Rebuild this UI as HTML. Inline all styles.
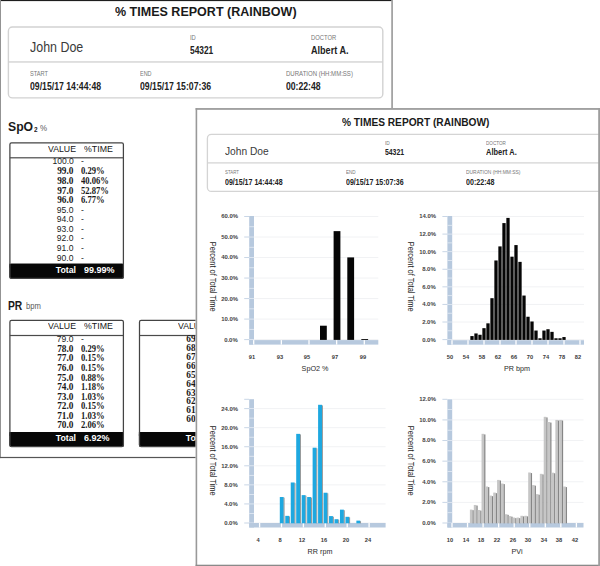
<!DOCTYPE html>
<html><head><meta charset="utf-8"><title>% Times Report (Rainbow)</title>
<style>
html,body{margin:0;padding:0;background:#fff;}
body{width:600px;height:566px;position:relative;overflow:hidden;font-family:"Liberation Sans",sans-serif;}
.layer{position:absolute;left:0;top:0;width:600px;height:566px;overflow:hidden}
.layer svg{position:absolute;left:0;top:0}
.t{position:absolute;white-space:pre}
</style></head><body>
<div class="layer" id="left-page">
<svg width="600" height="566" viewBox="0 0 600 566">
<rect x="0.00" y="0.00" width="393.00" height="458.10" fill="#fff"/>
<rect x="0.00" y="0.00" width="393.00" height="1.10" fill="#1e1e1e"/>
<rect x="0.00" y="0.00" width="1.00" height="458.10" fill="#939393"/>
<rect x="391.20" y="0.00" width="1.80" height="458.10" fill="#a4a4a4"/>
<rect x="0.00" y="456.90" width="393.00" height="1.20" fill="#555"/>
<rect x="8.40" y="27.00" width="374.40" height="70.90" fill="none" stroke="#d2d2d2" stroke-width="1.4" rx="4"/>
<rect x="8.40" y="61.30" width="374.40" height="1.30" fill="#d0d0d0"/>
<rect x="9.30" y="263.70" width="114.70" height="15.10" fill="#070707" rx="2"/>
<rect x="9.30" y="263.70" width="114.70" height="4.00" fill="#070707"/>
<rect x="9.90" y="142.80" width="113.50" height="135.50" fill="none" stroke="#444" stroke-width="1.25" rx="1.6"/>
<rect x="9.90" y="157.20" width="113.50" height="1.20" fill="#4a4a4a"/>
<rect x="9.30" y="432.00" width="114.70" height="15.00" fill="#070707" rx="2"/>
<rect x="9.30" y="432.00" width="114.70" height="4.00" fill="#070707"/>
<rect x="9.90" y="320.30" width="113.50" height="126.20" fill="none" stroke="#444" stroke-width="1.25" rx="1.6"/>
<rect x="9.90" y="334.90" width="113.50" height="1.20" fill="#4a4a4a"/>
<rect x="138.90" y="432.00" width="114.70" height="15.00" fill="#070707" rx="2"/>
<rect x="138.90" y="432.00" width="114.70" height="4.00" fill="#070707"/>
<rect x="139.50" y="320.30" width="113.50" height="126.20" fill="none" stroke="#444" stroke-width="1.25" rx="1.6"/>
<rect x="139.50" y="334.90" width="113.50" height="1.20" fill="#4a4a4a"/>
</svg>
<span class="t" style="font:bold 13.4px/17.42px 'Liberation Sans', sans-serif;color:#1a1a1a;top:2.89px;left:115.30px;transform-origin:0 50%;transform:scaleX(0.9351);">% TIMES REPORT (RAINBOW)</span>
<span class="t" style="font:normal 14px/18.20px 'Liberation Sans', sans-serif;color:#3a3a3a;top:38.10px;left:30.00px;transform-origin:0 50%;transform:scaleX(0.8883);">John Doe</span>
<span class="t" style="font:normal 7px/9.10px 'Liberation Sans', sans-serif;color:#777;top:32.65px;left:190.00px;transform-origin:0 50%;transform:scaleX(0.8286);">ID</span>
<span class="t" style="font:bold 10px/13.00px 'Liberation Sans', sans-serif;color:#222;top:43.70px;left:190.00px;transform-origin:0 50%;transform:scaleX(0.8357);">54321</span>
<span class="t" style="font:normal 7px/9.10px 'Liberation Sans', sans-serif;color:#777;top:32.65px;left:310.60px;transform-origin:0 50%;transform:scaleX(0.8333);">DOCTOR</span>
<span class="t" style="font:bold 10px/13.00px 'Liberation Sans', sans-serif;color:#222;top:43.70px;left:310.60px;transform-origin:0 50%;transform:scaleX(0.9073);">Albert A.</span>
<span class="t" style="font:normal 7px/9.10px 'Liberation Sans', sans-serif;color:#777;top:69.45px;left:30.00px;transform-origin:0 50%;transform:scaleX(0.8091);">START</span>
<span class="t" style="font:bold 10px/13.00px 'Liberation Sans', sans-serif;color:#222;top:79.50px;left:30.00px;transform-origin:0 50%;transform:scaleX(0.8695);">09/15/17 14:44:48</span>
<span class="t" style="font:normal 7px/9.10px 'Liberation Sans', sans-serif;color:#777;top:69.45px;left:140.30px;transform-origin:0 50%;transform:scaleX(0.7800);">END</span>
<span class="t" style="font:bold 10px/13.00px 'Liberation Sans', sans-serif;color:#222;top:79.50px;left:140.00px;transform-origin:0 50%;transform:scaleX(0.8695);">09/15/17 15:07:36</span>
<span class="t" style="font:normal 7px/9.10px 'Liberation Sans', sans-serif;color:#777;top:69.45px;left:286.10px;transform-origin:0 50%;transform:scaleX(0.8615);">DURATION (HH:MM:SS)</span>
<span class="t" style="font:bold 10px/13.00px 'Liberation Sans', sans-serif;color:#222;top:79.50px;left:286.10px;transform-origin:0 50%;transform:scaleX(0.8650);">00:22:48</span>
<span class="t" style="font:bold 13.4px/17.42px 'Liberation Sans', sans-serif;color:#1a1a1a;top:118.39px;left:7.90px;transform-origin:0 50%;transform:scaleX(0.9107);">SpO</span>
<span class="t" style="font:bold 6.6px/8.58px 'Liberation Sans', sans-serif;color:#1a1a1a;top:125.51px;left:33.70px;transform-origin:0 50%;transform:scaleX(0.9750);">2</span>
<span class="t" style="font:normal 8.3px/10.79px 'Liberation Sans', sans-serif;color:#595959;top:122.80px;left:40.30px;transform-origin:0 50%;transform:scaleX(0.9571);">%</span>
<span class="t" style="font:bold 13.4px/17.42px 'Liberation Sans', sans-serif;color:#1a1a1a;top:296.69px;left:8.20px;transform-origin:0 50%;transform:scaleX(0.7684);">PR</span>
<span class="t" style="font:normal 8.5px/11.05px 'Liberation Sans', sans-serif;color:#595959;top:300.68px;left:25.70px;transform-origin:0 50%;transform:scaleX(0.9000);">bpm</span>
<span class="t" style="font:normal 9.5px/12.35px 'Liberation Sans', sans-serif;color:#151515;top:143.22px;left:48.20px;transform-origin:0 50%;transform:scaleX(0.9200);">VALUE</span>
<span class="t" style="font:normal 9.5px/12.35px 'Liberation Sans', sans-serif;color:#151515;top:143.22px;left:83.80px;transform-origin:0 50%;transform:scaleX(0.9258);">%TIME</span>
<span class="t" style="font:normal 9.5px/12.35px 'Liberation Sans', sans-serif;color:#222;top:155.42px;right:526.60px;transform-origin:100% 50%;transform:scaleX(0.9000);">100.0</span>
<span class="t" style="font:normal 9.5px/12.35px 'Liberation Sans', sans-serif;color:#222;top:155.42px;left:81.20px;transform-origin:0 50%;transform:scaleX(0.9000);">-</span>
<span class="t" style="font:bold 10px/13.00px 'Liberation Serif', serif;color:#1a1a1a;top:164.32px;right:526.80px;transform-origin:100% 50%;transform:scaleX(0.9300);">99.0</span>
<span class="t" style="font:bold 10px/13.00px 'Liberation Serif', serif;color:#1a1a1a;top:164.32px;left:81.20px;transform-origin:0 50%;transform:scaleX(0.8600);">0.29%</span>
<span class="t" style="font:bold 10px/13.00px 'Liberation Serif', serif;color:#1a1a1a;top:173.94px;right:526.80px;transform-origin:100% 50%;transform:scaleX(0.9300);">98.0</span>
<span class="t" style="font:bold 10px/13.00px 'Liberation Serif', serif;color:#1a1a1a;top:173.94px;left:81.20px;transform-origin:0 50%;transform:scaleX(0.8600);">40.06%</span>
<span class="t" style="font:bold 10px/13.00px 'Liberation Serif', serif;color:#1a1a1a;top:183.56px;right:526.80px;transform-origin:100% 50%;transform:scaleX(0.9300);">97.0</span>
<span class="t" style="font:bold 10px/13.00px 'Liberation Serif', serif;color:#1a1a1a;top:183.56px;left:81.20px;transform-origin:0 50%;transform:scaleX(0.8600);">52.87%</span>
<span class="t" style="font:bold 10px/13.00px 'Liberation Serif', serif;color:#1a1a1a;top:193.18px;right:526.80px;transform-origin:100% 50%;transform:scaleX(0.9300);">96.0</span>
<span class="t" style="font:bold 10px/13.00px 'Liberation Serif', serif;color:#1a1a1a;top:193.18px;left:81.20px;transform-origin:0 50%;transform:scaleX(0.8600);">6.77%</span>
<span class="t" style="font:normal 9.5px/12.35px 'Liberation Sans', sans-serif;color:#222;top:203.52px;right:526.60px;transform-origin:100% 50%;transform:scaleX(0.9000);">95.0</span>
<span class="t" style="font:normal 9.5px/12.35px 'Liberation Sans', sans-serif;color:#222;top:203.52px;left:81.20px;transform-origin:0 50%;transform:scaleX(0.9000);">-</span>
<span class="t" style="font:normal 9.5px/12.35px 'Liberation Sans', sans-serif;color:#222;top:213.14px;right:526.60px;transform-origin:100% 50%;transform:scaleX(0.9000);">94.0</span>
<span class="t" style="font:normal 9.5px/12.35px 'Liberation Sans', sans-serif;color:#222;top:213.14px;left:81.20px;transform-origin:0 50%;transform:scaleX(0.9000);">-</span>
<span class="t" style="font:normal 9.5px/12.35px 'Liberation Sans', sans-serif;color:#222;top:222.76px;right:526.60px;transform-origin:100% 50%;transform:scaleX(0.9000);">93.0</span>
<span class="t" style="font:normal 9.5px/12.35px 'Liberation Sans', sans-serif;color:#222;top:222.76px;left:81.20px;transform-origin:0 50%;transform:scaleX(0.9000);">-</span>
<span class="t" style="font:normal 9.5px/12.35px 'Liberation Sans', sans-serif;color:#222;top:232.38px;right:526.60px;transform-origin:100% 50%;transform:scaleX(0.9000);">92.0</span>
<span class="t" style="font:normal 9.5px/12.35px 'Liberation Sans', sans-serif;color:#222;top:232.38px;left:81.20px;transform-origin:0 50%;transform:scaleX(0.9000);">-</span>
<span class="t" style="font:normal 9.5px/12.35px 'Liberation Sans', sans-serif;color:#222;top:242.00px;right:526.60px;transform-origin:100% 50%;transform:scaleX(0.9000);">91.0</span>
<span class="t" style="font:normal 9.5px/12.35px 'Liberation Sans', sans-serif;color:#222;top:242.00px;left:81.20px;transform-origin:0 50%;transform:scaleX(0.9000);">-</span>
<span class="t" style="font:normal 9.5px/12.35px 'Liberation Sans', sans-serif;color:#222;top:251.62px;right:526.60px;transform-origin:100% 50%;transform:scaleX(0.9000);">90.0</span>
<span class="t" style="font:normal 9.5px/12.35px 'Liberation Sans', sans-serif;color:#222;top:251.62px;left:81.20px;transform-origin:0 50%;transform:scaleX(0.9000);">-</span>
<span class="t" style="font:bold 9.5px/12.35px 'Liberation Sans', sans-serif;color:#fff;top:264.43px;right:523.60px;transform-origin:100% 50%;transform:scaleX(0.9227);">Total</span>
<span class="t" style="font:bold 9.5px/12.35px 'Liberation Sans', sans-serif;color:#fff;top:264.43px;left:83.70px;transform-origin:0 50%;transform:scaleX(0.9469);">99.99%</span>
<span class="t" style="font:normal 9.5px/12.35px 'Liberation Sans', sans-serif;color:#151515;top:320.43px;left:48.20px;transform-origin:0 50%;transform:scaleX(0.9200);">VALUE</span>
<span class="t" style="font:normal 9.5px/12.35px 'Liberation Sans', sans-serif;color:#151515;top:320.43px;left:83.80px;transform-origin:0 50%;transform:scaleX(0.9258);">%TIME</span>
<span class="t" style="font:normal 9.5px/12.35px 'Liberation Sans', sans-serif;color:#222;top:333.02px;right:526.60px;transform-origin:100% 50%;transform:scaleX(0.9000);">79.0</span>
<span class="t" style="font:normal 9.5px/12.35px 'Liberation Sans', sans-serif;color:#222;top:333.02px;left:81.20px;transform-origin:0 50%;transform:scaleX(0.9000);">-</span>
<span class="t" style="font:bold 10px/13.00px 'Liberation Serif', serif;color:#1a1a1a;top:341.86px;right:526.80px;transform-origin:100% 50%;transform:scaleX(0.9300);">78.0</span>
<span class="t" style="font:bold 10px/13.00px 'Liberation Serif', serif;color:#1a1a1a;top:341.86px;left:81.20px;transform-origin:0 50%;transform:scaleX(0.8600);">0.29%</span>
<span class="t" style="font:bold 10px/13.00px 'Liberation Serif', serif;color:#1a1a1a;top:351.42px;right:526.80px;transform-origin:100% 50%;transform:scaleX(0.9300);">77.0</span>
<span class="t" style="font:bold 10px/13.00px 'Liberation Serif', serif;color:#1a1a1a;top:351.42px;left:81.20px;transform-origin:0 50%;transform:scaleX(0.8600);">0.15%</span>
<span class="t" style="font:bold 10px/13.00px 'Liberation Serif', serif;color:#1a1a1a;top:360.98px;right:526.80px;transform-origin:100% 50%;transform:scaleX(0.9300);">76.0</span>
<span class="t" style="font:bold 10px/13.00px 'Liberation Serif', serif;color:#1a1a1a;top:360.98px;left:81.20px;transform-origin:0 50%;transform:scaleX(0.8600);">0.15%</span>
<span class="t" style="font:bold 10px/13.00px 'Liberation Serif', serif;color:#1a1a1a;top:370.54px;right:526.80px;transform-origin:100% 50%;transform:scaleX(0.9300);">75.0</span>
<span class="t" style="font:bold 10px/13.00px 'Liberation Serif', serif;color:#1a1a1a;top:370.54px;left:81.20px;transform-origin:0 50%;transform:scaleX(0.8600);">0.88%</span>
<span class="t" style="font:bold 10px/13.00px 'Liberation Serif', serif;color:#1a1a1a;top:380.10px;right:526.80px;transform-origin:100% 50%;transform:scaleX(0.9300);">74.0</span>
<span class="t" style="font:bold 10px/13.00px 'Liberation Serif', serif;color:#1a1a1a;top:380.10px;left:81.20px;transform-origin:0 50%;transform:scaleX(0.8600);">1.18%</span>
<span class="t" style="font:bold 10px/13.00px 'Liberation Serif', serif;color:#1a1a1a;top:389.66px;right:526.80px;transform-origin:100% 50%;transform:scaleX(0.9300);">73.0</span>
<span class="t" style="font:bold 10px/13.00px 'Liberation Serif', serif;color:#1a1a1a;top:389.66px;left:81.20px;transform-origin:0 50%;transform:scaleX(0.8600);">1.03%</span>
<span class="t" style="font:bold 10px/13.00px 'Liberation Serif', serif;color:#1a1a1a;top:399.22px;right:526.80px;transform-origin:100% 50%;transform:scaleX(0.9300);">72.0</span>
<span class="t" style="font:bold 10px/13.00px 'Liberation Serif', serif;color:#1a1a1a;top:399.22px;left:81.20px;transform-origin:0 50%;transform:scaleX(0.8600);">0.15%</span>
<span class="t" style="font:bold 10px/13.00px 'Liberation Serif', serif;color:#1a1a1a;top:408.78px;right:526.80px;transform-origin:100% 50%;transform:scaleX(0.9300);">71.0</span>
<span class="t" style="font:bold 10px/13.00px 'Liberation Serif', serif;color:#1a1a1a;top:408.78px;left:81.20px;transform-origin:0 50%;transform:scaleX(0.8600);">1.03%</span>
<span class="t" style="font:bold 10px/13.00px 'Liberation Serif', serif;color:#1a1a1a;top:418.34px;right:526.80px;transform-origin:100% 50%;transform:scaleX(0.9300);">70.0</span>
<span class="t" style="font:bold 10px/13.00px 'Liberation Serif', serif;color:#1a1a1a;top:418.34px;left:81.20px;transform-origin:0 50%;transform:scaleX(0.8600);">2.06%</span>
<span class="t" style="font:bold 9.5px/12.35px 'Liberation Sans', sans-serif;color:#fff;top:431.82px;right:523.60px;transform-origin:100% 50%;transform:scaleX(0.9227);">Total</span>
<span class="t" style="font:bold 9.5px/12.35px 'Liberation Sans', sans-serif;color:#fff;top:431.82px;left:83.70px;transform-origin:0 50%;transform:scaleX(0.9444);">6.92%</span>
<span class="t" style="font:normal 9.5px/12.35px 'Liberation Sans', sans-serif;color:#151515;top:320.43px;left:177.80px;transform-origin:0 50%;transform:scaleX(0.9200);">VALUE</span>
<span class="t" style="font:normal 9.5px/12.35px 'Liberation Sans', sans-serif;color:#151515;top:320.43px;left:213.40px;transform-origin:0 50%;transform:scaleX(0.9258);">%TIME</span>
<span class="t" style="font:bold 10px/13.00px 'Liberation Serif', serif;color:#1a1a1a;top:332.10px;right:397.20px;transform-origin:100% 50%;transform:scaleX(0.9300);">69.0</span>
<span class="t" style="font:bold 10px/13.00px 'Liberation Serif', serif;color:#1a1a1a;top:332.10px;left:210.80px;transform-origin:0 50%;transform:scaleX(0.8600);">5.01%</span>
<span class="t" style="font:bold 10px/13.00px 'Liberation Serif', serif;color:#1a1a1a;top:341.00px;right:397.20px;transform-origin:100% 50%;transform:scaleX(0.9300);">68.0</span>
<span class="t" style="font:bold 10px/13.00px 'Liberation Serif', serif;color:#1a1a1a;top:341.00px;left:210.80px;transform-origin:0 50%;transform:scaleX(0.8600);">8.84%</span>
<span class="t" style="font:bold 10px/13.00px 'Liberation Serif', serif;color:#1a1a1a;top:349.90px;right:397.20px;transform-origin:100% 50%;transform:scaleX(0.9300);">67.0</span>
<span class="t" style="font:bold 10px/13.00px 'Liberation Serif', serif;color:#1a1a1a;top:349.90px;left:210.80px;transform-origin:0 50%;transform:scaleX(0.8600);">10.75%</span>
<span class="t" style="font:bold 10px/13.00px 'Liberation Serif', serif;color:#1a1a1a;top:358.80px;right:397.20px;transform-origin:100% 50%;transform:scaleX(0.9300);">66.0</span>
<span class="t" style="font:bold 10px/13.00px 'Liberation Serif', serif;color:#1a1a1a;top:358.80px;left:210.80px;transform-origin:0 50%;transform:scaleX(0.8600);">9.43%</span>
<span class="t" style="font:bold 10px/13.00px 'Liberation Serif', serif;color:#1a1a1a;top:367.70px;right:397.20px;transform-origin:100% 50%;transform:scaleX(0.9300);">65.0</span>
<span class="t" style="font:bold 10px/13.00px 'Liberation Serif', serif;color:#1a1a1a;top:367.70px;left:210.80px;transform-origin:0 50%;transform:scaleX(0.8600);">13.84%</span>
<span class="t" style="font:bold 10px/13.00px 'Liberation Serif', serif;color:#1a1a1a;top:376.60px;right:397.20px;transform-origin:100% 50%;transform:scaleX(0.9300);">64.0</span>
<span class="t" style="font:bold 10px/13.00px 'Liberation Serif', serif;color:#1a1a1a;top:376.60px;left:210.80px;transform-origin:0 50%;transform:scaleX(0.8600);">13.25%</span>
<span class="t" style="font:bold 10px/13.00px 'Liberation Serif', serif;color:#1a1a1a;top:385.50px;right:397.20px;transform-origin:100% 50%;transform:scaleX(0.9300);">63.0</span>
<span class="t" style="font:bold 10px/13.00px 'Liberation Serif', serif;color:#1a1a1a;top:385.50px;left:210.80px;transform-origin:0 50%;transform:scaleX(0.8600);">10.60%</span>
<span class="t" style="font:bold 10px/13.00px 'Liberation Serif', serif;color:#1a1a1a;top:394.40px;right:397.20px;transform-origin:100% 50%;transform:scaleX(0.9300);">62.0</span>
<span class="t" style="font:bold 10px/13.00px 'Liberation Serif', serif;color:#1a1a1a;top:394.40px;left:210.80px;transform-origin:0 50%;transform:scaleX(0.8600);">9.00%</span>
<span class="t" style="font:bold 10px/13.00px 'Liberation Serif', serif;color:#1a1a1a;top:403.30px;right:397.20px;transform-origin:100% 50%;transform:scaleX(0.9300);">61.0</span>
<span class="t" style="font:bold 10px/13.00px 'Liberation Serif', serif;color:#1a1a1a;top:403.30px;left:210.80px;transform-origin:0 50%;transform:scaleX(0.8600);">4.71%</span>
<span class="t" style="font:bold 10px/13.00px 'Liberation Serif', serif;color:#1a1a1a;top:412.20px;right:397.20px;transform-origin:100% 50%;transform:scaleX(0.9300);">60.0</span>
<span class="t" style="font:bold 10px/13.00px 'Liberation Serif', serif;color:#1a1a1a;top:412.20px;left:210.80px;transform-origin:0 50%;transform:scaleX(0.8600);">1.91%</span>
<span class="t" style="font:bold 9.5px/12.35px 'Liberation Sans', sans-serif;color:#fff;top:431.82px;right:394.00px;transform-origin:100% 50%;transform:scaleX(0.9227);">Total</span>
<span class="t" style="font:bold 9.5px/12.35px 'Liberation Sans', sans-serif;color:#fff;top:431.82px;left:213.30px;transform-origin:0 50%;transform:scaleX(0.9000);">86.3%</span>
</div>
<div class="layer" id="right-page">
<svg width="600" height="566" viewBox="0 0 600 566">
<rect x="195.60" y="108.10" width="404.40" height="457.90" fill="#fff"/>
<rect x="195.60" y="108.10" width="404.40" height="1.70" fill="#979797"/>
<rect x="195.60" y="108.10" width="1.60" height="457.90" fill="#999"/>
<rect x="195.60" y="564.70" width="404.40" height="1.30" fill="#8a8a8a"/>
<rect x="207.40" y="134.40" width="400.00" height="57.00" fill="none" stroke="#d4d4d4" stroke-width="1.3" rx="4"/>
<rect x="207.40" y="162.30" width="392.00" height="1.20" fill="#d2d2d2"/>
<rect x="598.20" y="108.10" width="1.80" height="457.90" fill="#9d9d9d"/>
<rect x="254.20" y="339.10" width="124.10" height="1.00" fill="#f1f2f4"/>
<rect x="244.20" y="339.10" width="5.00" height="1.00" fill="#c9d6e6"/>
<rect x="254.20" y="318.58" width="124.10" height="1.00" fill="#f1f2f4"/>
<rect x="244.20" y="318.58" width="5.00" height="1.00" fill="#c9d6e6"/>
<rect x="254.20" y="298.07" width="124.10" height="1.00" fill="#f1f2f4"/>
<rect x="244.20" y="298.07" width="5.00" height="1.00" fill="#c9d6e6"/>
<rect x="254.20" y="277.55" width="124.10" height="1.00" fill="#f1f2f4"/>
<rect x="244.20" y="277.55" width="5.00" height="1.00" fill="#c9d6e6"/>
<rect x="254.20" y="257.03" width="124.10" height="1.00" fill="#f1f2f4"/>
<rect x="244.20" y="257.03" width="5.00" height="1.00" fill="#c9d6e6"/>
<rect x="254.20" y="236.52" width="124.10" height="1.00" fill="#f1f2f4"/>
<rect x="244.20" y="236.52" width="5.00" height="1.00" fill="#c9d6e6"/>
<rect x="254.20" y="216.00" width="124.10" height="1.00" fill="#f1f2f4"/>
<rect x="244.20" y="216.00" width="5.00" height="1.00" fill="#c9d6e6"/>
<rect x="249.20" y="216.00" width="4.80" height="128.60" fill="#b7c9de"/>
<rect x="249.20" y="339.20" width="4.80" height="0.80" fill="#e4ebf4"/>
<rect x="249.20" y="328.94" width="4.80" height="0.80" fill="#e4ebf4"/>
<rect x="249.20" y="318.68" width="4.80" height="0.80" fill="#e4ebf4"/>
<rect x="249.20" y="308.43" width="4.80" height="0.80" fill="#e4ebf4"/>
<rect x="249.20" y="298.17" width="4.80" height="0.80" fill="#e4ebf4"/>
<rect x="249.20" y="287.91" width="4.80" height="0.80" fill="#e4ebf4"/>
<rect x="249.20" y="277.65" width="4.80" height="0.80" fill="#e4ebf4"/>
<rect x="249.20" y="267.39" width="4.80" height="0.80" fill="#e4ebf4"/>
<rect x="249.20" y="257.13" width="4.80" height="0.80" fill="#e4ebf4"/>
<rect x="249.20" y="246.87" width="4.80" height="0.80" fill="#e4ebf4"/>
<rect x="249.20" y="236.62" width="4.80" height="0.80" fill="#e4ebf4"/>
<rect x="249.20" y="226.36" width="4.80" height="0.80" fill="#e4ebf4"/>
<rect x="249.20" y="340.10" width="129.10" height="4.50" fill="#b7c9de"/>
<rect x="253.05" y="340.10" width="1.30" height="4.50" fill="#fff"/>
<rect x="280.70" y="340.10" width="1.30" height="4.50" fill="#fff"/>
<rect x="308.35" y="340.10" width="1.30" height="4.50" fill="#fff"/>
<rect x="336.00" y="340.10" width="1.30" height="4.50" fill="#fff"/>
<rect x="363.65" y="340.10" width="1.30" height="4.50" fill="#fff"/>
<rect x="320.00" y="325.71" width="6.80" height="14.19" fill="#060606"/>
<rect x="333.60" y="231.13" width="6.80" height="108.77" fill="#060606"/>
<rect x="347.30" y="257.41" width="6.80" height="82.49" fill="#060606"/>
<rect x="361.30" y="339.01" width="6.80" height="0.89" fill="#060606"/>
<rect x="452.40" y="339.10" width="131.60" height="1.00" fill="#f1f2f4"/>
<rect x="442.40" y="339.10" width="5.00" height="1.00" fill="#c9d6e6"/>
<rect x="452.40" y="321.51" width="131.60" height="1.00" fill="#f1f2f4"/>
<rect x="442.40" y="321.51" width="5.00" height="1.00" fill="#c9d6e6"/>
<rect x="452.40" y="303.93" width="131.60" height="1.00" fill="#f1f2f4"/>
<rect x="442.40" y="303.93" width="5.00" height="1.00" fill="#c9d6e6"/>
<rect x="452.40" y="286.34" width="131.60" height="1.00" fill="#f1f2f4"/>
<rect x="442.40" y="286.34" width="5.00" height="1.00" fill="#c9d6e6"/>
<rect x="452.40" y="268.76" width="131.60" height="1.00" fill="#f1f2f4"/>
<rect x="442.40" y="268.76" width="5.00" height="1.00" fill="#c9d6e6"/>
<rect x="452.40" y="251.17" width="131.60" height="1.00" fill="#f1f2f4"/>
<rect x="442.40" y="251.17" width="5.00" height="1.00" fill="#c9d6e6"/>
<rect x="452.40" y="233.59" width="131.60" height="1.00" fill="#f1f2f4"/>
<rect x="442.40" y="233.59" width="5.00" height="1.00" fill="#c9d6e6"/>
<rect x="452.40" y="216.00" width="131.60" height="1.00" fill="#f1f2f4"/>
<rect x="442.40" y="216.00" width="5.00" height="1.00" fill="#c9d6e6"/>
<rect x="447.40" y="216.00" width="4.80" height="128.70" fill="#b7c9de"/>
<rect x="447.40" y="339.20" width="4.80" height="0.80" fill="#e4ebf4"/>
<rect x="447.40" y="330.41" width="4.80" height="0.80" fill="#e4ebf4"/>
<rect x="447.40" y="321.61" width="4.80" height="0.80" fill="#e4ebf4"/>
<rect x="447.40" y="312.82" width="4.80" height="0.80" fill="#e4ebf4"/>
<rect x="447.40" y="304.03" width="4.80" height="0.80" fill="#e4ebf4"/>
<rect x="447.40" y="295.24" width="4.80" height="0.80" fill="#e4ebf4"/>
<rect x="447.40" y="286.44" width="4.80" height="0.80" fill="#e4ebf4"/>
<rect x="447.40" y="277.65" width="4.80" height="0.80" fill="#e4ebf4"/>
<rect x="447.40" y="268.86" width="4.80" height="0.80" fill="#e4ebf4"/>
<rect x="447.40" y="260.06" width="4.80" height="0.80" fill="#e4ebf4"/>
<rect x="447.40" y="251.27" width="4.80" height="0.80" fill="#e4ebf4"/>
<rect x="447.40" y="242.48" width="4.80" height="0.80" fill="#e4ebf4"/>
<rect x="447.40" y="233.69" width="4.80" height="0.80" fill="#e4ebf4"/>
<rect x="447.40" y="224.89" width="4.80" height="0.80" fill="#e4ebf4"/>
<rect x="447.40" y="340.20" width="136.60" height="4.50" fill="#b7c9de"/>
<rect x="451.35" y="340.20" width="1.30" height="4.50" fill="#fff"/>
<rect x="467.35" y="340.20" width="1.30" height="4.50" fill="#fff"/>
<rect x="483.35" y="340.20" width="1.30" height="4.50" fill="#fff"/>
<rect x="499.35" y="340.20" width="1.30" height="4.50" fill="#fff"/>
<rect x="515.35" y="340.20" width="1.30" height="4.50" fill="#fff"/>
<rect x="531.35" y="340.20" width="1.30" height="4.50" fill="#fff"/>
<rect x="547.35" y="340.20" width="1.30" height="4.50" fill="#fff"/>
<rect x="563.35" y="340.20" width="1.30" height="4.50" fill="#fff"/>
<rect x="579.35" y="340.20" width="1.30" height="4.50" fill="#fff"/>
<rect x="470.35" y="336.08" width="3.30" height="3.82" fill="#060606"/>
<rect x="474.35" y="333.45" width="3.30" height="6.46" fill="#060606"/>
<rect x="478.35" y="334.76" width="3.30" height="5.14" fill="#060606"/>
<rect x="482.35" y="328.17" width="3.30" height="11.73" fill="#060606"/>
<rect x="486.35" y="323.33" width="3.30" height="16.57" fill="#060606"/>
<rect x="490.35" y="298.19" width="3.30" height="41.71" fill="#060606"/>
<rect x="494.35" y="260.46" width="3.30" height="79.44" fill="#060606"/>
<rect x="498.35" y="246.40" width="3.30" height="93.50" fill="#060606"/>
<rect x="502.35" y="223.09" width="3.30" height="116.81" fill="#060606"/>
<rect x="506.35" y="217.91" width="3.30" height="121.99" fill="#060606"/>
<rect x="510.35" y="256.68" width="3.30" height="83.22" fill="#060606"/>
<rect x="514.35" y="245.08" width="3.30" height="94.82" fill="#060606"/>
<rect x="518.35" y="261.87" width="3.30" height="78.03" fill="#060606"/>
<rect x="522.35" y="295.55" width="3.30" height="44.35" fill="#060606"/>
<rect x="526.35" y="316.74" width="3.30" height="23.16" fill="#060606"/>
<rect x="530.35" y="321.49" width="3.30" height="18.41" fill="#060606"/>
<rect x="534.35" y="330.54" width="3.30" height="9.36" fill="#060606"/>
<rect x="538.35" y="338.28" width="3.30" height="1.62" fill="#060606"/>
<rect x="542.35" y="330.54" width="3.30" height="9.36" fill="#060606"/>
<rect x="546.35" y="329.22" width="3.30" height="10.68" fill="#060606"/>
<rect x="550.35" y="331.86" width="3.30" height="8.04" fill="#060606"/>
<rect x="554.35" y="338.28" width="3.30" height="1.62" fill="#060606"/>
<rect x="558.35" y="338.28" width="3.30" height="1.62" fill="#060606"/>
<rect x="562.35" y="337.05" width="3.30" height="2.85" fill="#060606"/>
<rect x="254.20" y="522.50" width="131.40" height="1.00" fill="#f1f2f4"/>
<rect x="244.20" y="522.50" width="5.00" height="1.00" fill="#c9d6e6"/>
<rect x="254.20" y="503.43" width="131.40" height="1.00" fill="#f1f2f4"/>
<rect x="244.20" y="503.43" width="5.00" height="1.00" fill="#c9d6e6"/>
<rect x="254.20" y="484.37" width="131.40" height="1.00" fill="#f1f2f4"/>
<rect x="244.20" y="484.37" width="5.00" height="1.00" fill="#c9d6e6"/>
<rect x="254.20" y="465.30" width="131.40" height="1.00" fill="#f1f2f4"/>
<rect x="244.20" y="465.30" width="5.00" height="1.00" fill="#c9d6e6"/>
<rect x="254.20" y="446.23" width="131.40" height="1.00" fill="#f1f2f4"/>
<rect x="244.20" y="446.23" width="5.00" height="1.00" fill="#c9d6e6"/>
<rect x="254.20" y="427.17" width="131.40" height="1.00" fill="#f1f2f4"/>
<rect x="244.20" y="427.17" width="5.00" height="1.00" fill="#c9d6e6"/>
<rect x="254.20" y="408.10" width="131.40" height="1.00" fill="#f1f2f4"/>
<rect x="244.20" y="408.10" width="5.00" height="1.00" fill="#c9d6e6"/>
<rect x="249.20" y="399.20" width="4.80" height="128.30" fill="#b7c9de"/>
<rect x="249.20" y="522.60" width="4.80" height="0.80" fill="#e4ebf4"/>
<rect x="249.20" y="513.07" width="4.80" height="0.80" fill="#e4ebf4"/>
<rect x="249.20" y="503.53" width="4.80" height="0.80" fill="#e4ebf4"/>
<rect x="249.20" y="494.00" width="4.80" height="0.80" fill="#e4ebf4"/>
<rect x="249.20" y="484.47" width="4.80" height="0.80" fill="#e4ebf4"/>
<rect x="249.20" y="474.93" width="4.80" height="0.80" fill="#e4ebf4"/>
<rect x="249.20" y="465.40" width="4.80" height="0.80" fill="#e4ebf4"/>
<rect x="249.20" y="455.87" width="4.80" height="0.80" fill="#e4ebf4"/>
<rect x="249.20" y="446.33" width="4.80" height="0.80" fill="#e4ebf4"/>
<rect x="249.20" y="436.80" width="4.80" height="0.80" fill="#e4ebf4"/>
<rect x="249.20" y="427.27" width="4.80" height="0.80" fill="#e4ebf4"/>
<rect x="249.20" y="417.73" width="4.80" height="0.80" fill="#e4ebf4"/>
<rect x="249.20" y="408.20" width="4.80" height="0.80" fill="#e4ebf4"/>
<rect x="249.20" y="523.00" width="136.40" height="4.50" fill="#b7c9de"/>
<rect x="258.95" y="523.00" width="1.30" height="4.50" fill="#fff"/>
<rect x="280.85" y="523.00" width="1.30" height="4.50" fill="#fff"/>
<rect x="302.75" y="523.00" width="1.30" height="4.50" fill="#fff"/>
<rect x="324.65" y="523.00" width="1.30" height="4.50" fill="#fff"/>
<rect x="346.55" y="523.00" width="1.30" height="4.50" fill="#fff"/>
<rect x="368.45" y="523.00" width="1.30" height="4.50" fill="#fff"/>
<rect x="279.80" y="497.02" width="3.90" height="26.28" fill="#1ea8e0"/>
<rect x="283.70" y="497.62" width="0.75" height="25.68" fill="#7c7c7c"/>
<rect x="285.27" y="515.85" width="3.90" height="7.45" fill="#1ea8e0"/>
<rect x="289.17" y="516.45" width="0.75" height="6.85" fill="#7c7c7c"/>
<rect x="290.74" y="482.48" width="3.90" height="40.82" fill="#1ea8e0"/>
<rect x="294.64" y="483.08" width="0.75" height="40.22" fill="#7c7c7c"/>
<rect x="296.21" y="433.86" width="3.90" height="89.44" fill="#1ea8e0"/>
<rect x="300.11" y="434.46" width="0.75" height="88.84" fill="#7c7c7c"/>
<rect x="301.68" y="495.12" width="3.90" height="28.18" fill="#1ea8e0"/>
<rect x="305.58" y="495.72" width="0.75" height="27.58" fill="#7c7c7c"/>
<rect x="307.15" y="497.02" width="3.90" height="26.28" fill="#1ea8e0"/>
<rect x="311.05" y="497.62" width="0.75" height="25.68" fill="#7c7c7c"/>
<rect x="312.62" y="447.69" width="3.90" height="75.61" fill="#1ea8e0"/>
<rect x="316.52" y="448.29" width="0.75" height="75.01" fill="#7c7c7c"/>
<rect x="318.09" y="404.79" width="3.90" height="118.51" fill="#1ea8e0"/>
<rect x="321.99" y="405.39" width="0.75" height="117.91" fill="#7c7c7c"/>
<rect x="323.56" y="492.73" width="3.90" height="30.57" fill="#1ea8e0"/>
<rect x="327.46" y="493.33" width="0.75" height="29.97" fill="#7c7c7c"/>
<rect x="329.03" y="516.09" width="3.90" height="7.21" fill="#1ea8e0"/>
<rect x="332.93" y="516.69" width="0.75" height="6.61" fill="#7c7c7c"/>
<rect x="334.50" y="519.19" width="3.90" height="4.11" fill="#1ea8e0"/>
<rect x="338.40" y="519.79" width="0.75" height="3.51" fill="#7c7c7c"/>
<rect x="339.97" y="509.65" width="3.90" height="13.65" fill="#1ea8e0"/>
<rect x="343.87" y="510.25" width="0.75" height="13.05" fill="#7c7c7c"/>
<rect x="345.44" y="516.80" width="3.90" height="6.50" fill="#1ea8e0"/>
<rect x="349.34" y="517.40" width="0.75" height="5.90" fill="#7c7c7c"/>
<rect x="356.38" y="520.62" width="3.90" height="2.68" fill="#1ea8e0"/>
<rect x="360.28" y="521.22" width="0.75" height="2.08" fill="#7c7c7c"/>
<rect x="244.20" y="398.80" width="5.00" height="1.00" fill="#c9d6e6"/>
<rect x="452.40" y="522.50" width="131.10" height="1.00" fill="#f1f2f4"/>
<rect x="442.40" y="522.50" width="5.00" height="1.00" fill="#c9d6e6"/>
<rect x="452.40" y="501.88" width="131.10" height="1.00" fill="#f1f2f4"/>
<rect x="442.40" y="501.88" width="5.00" height="1.00" fill="#c9d6e6"/>
<rect x="452.40" y="481.27" width="131.10" height="1.00" fill="#f1f2f4"/>
<rect x="442.40" y="481.27" width="5.00" height="1.00" fill="#c9d6e6"/>
<rect x="452.40" y="460.65" width="131.10" height="1.00" fill="#f1f2f4"/>
<rect x="442.40" y="460.65" width="5.00" height="1.00" fill="#c9d6e6"/>
<rect x="452.40" y="440.03" width="131.10" height="1.00" fill="#f1f2f4"/>
<rect x="442.40" y="440.03" width="5.00" height="1.00" fill="#c9d6e6"/>
<rect x="452.40" y="419.42" width="131.10" height="1.00" fill="#f1f2f4"/>
<rect x="442.40" y="419.42" width="5.00" height="1.00" fill="#c9d6e6"/>
<rect x="452.40" y="398.80" width="131.10" height="1.00" fill="#f1f2f4"/>
<rect x="442.40" y="398.80" width="5.00" height="1.00" fill="#c9d6e6"/>
<rect x="447.40" y="399.30" width="4.80" height="128.20" fill="#b7c9de"/>
<rect x="447.40" y="522.60" width="4.80" height="0.80" fill="#e4ebf4"/>
<rect x="447.40" y="512.29" width="4.80" height="0.80" fill="#e4ebf4"/>
<rect x="447.40" y="501.98" width="4.80" height="0.80" fill="#e4ebf4"/>
<rect x="447.40" y="491.68" width="4.80" height="0.80" fill="#e4ebf4"/>
<rect x="447.40" y="481.37" width="4.80" height="0.80" fill="#e4ebf4"/>
<rect x="447.40" y="471.06" width="4.80" height="0.80" fill="#e4ebf4"/>
<rect x="447.40" y="460.75" width="4.80" height="0.80" fill="#e4ebf4"/>
<rect x="447.40" y="450.44" width="4.80" height="0.80" fill="#e4ebf4"/>
<rect x="447.40" y="440.13" width="4.80" height="0.80" fill="#e4ebf4"/>
<rect x="447.40" y="429.83" width="4.80" height="0.80" fill="#e4ebf4"/>
<rect x="447.40" y="419.52" width="4.80" height="0.80" fill="#e4ebf4"/>
<rect x="447.40" y="409.21" width="4.80" height="0.80" fill="#e4ebf4"/>
<rect x="447.40" y="523.00" width="136.10" height="4.50" fill="#b7c9de"/>
<rect x="451.35" y="523.00" width="1.30" height="4.50" fill="#fff"/>
<rect x="466.90" y="523.00" width="1.30" height="4.50" fill="#fff"/>
<rect x="482.45" y="523.00" width="1.30" height="4.50" fill="#fff"/>
<rect x="498.00" y="523.00" width="1.30" height="4.50" fill="#fff"/>
<rect x="513.55" y="523.00" width="1.30" height="4.50" fill="#fff"/>
<rect x="529.10" y="523.00" width="1.30" height="4.50" fill="#fff"/>
<rect x="544.65" y="523.00" width="1.30" height="4.50" fill="#fff"/>
<rect x="560.20" y="523.00" width="1.30" height="4.50" fill="#fff"/>
<rect x="575.75" y="523.00" width="1.30" height="4.50" fill="#fff"/>
<rect x="469.90" y="509.60" width="2.60" height="13.70" fill="#c6c6c6"/>
<rect x="472.50" y="510.20" width="1.28" height="13.10" fill="#868686"/>
<rect x="473.78" y="504.96" width="2.60" height="18.34" fill="#c6c6c6"/>
<rect x="476.38" y="505.56" width="1.28" height="17.74" fill="#868686"/>
<rect x="477.67" y="510.01" width="2.60" height="13.29" fill="#c6c6c6"/>
<rect x="480.27" y="510.61" width="1.28" height="12.69" fill="#868686"/>
<rect x="481.55" y="433.83" width="2.60" height="89.47" fill="#c6c6c6"/>
<rect x="484.15" y="434.43" width="1.28" height="88.87" fill="#868686"/>
<rect x="485.44" y="486.51" width="2.60" height="36.79" fill="#c6c6c6"/>
<rect x="488.04" y="487.11" width="1.28" height="36.19" fill="#868686"/>
<rect x="489.32" y="495.58" width="2.60" height="27.72" fill="#c6c6c6"/>
<rect x="491.93" y="496.18" width="1.28" height="27.12" fill="#868686"/>
<rect x="493.21" y="492.59" width="2.60" height="30.71" fill="#c6c6c6"/>
<rect x="495.81" y="493.19" width="1.28" height="30.11" fill="#868686"/>
<rect x="497.09" y="479.91" width="2.60" height="43.39" fill="#c6c6c6"/>
<rect x="499.69" y="480.51" width="1.28" height="42.79" fill="#868686"/>
<rect x="500.98" y="483.52" width="2.60" height="39.78" fill="#c6c6c6"/>
<rect x="503.58" y="484.12" width="1.28" height="39.18" fill="#868686"/>
<rect x="504.86" y="514.24" width="2.60" height="9.06" fill="#c6c6c6"/>
<rect x="507.46" y="514.84" width="1.28" height="8.46" fill="#868686"/>
<rect x="508.75" y="516.09" width="2.60" height="7.21" fill="#c6c6c6"/>
<rect x="511.35" y="516.69" width="1.28" height="6.61" fill="#868686"/>
<rect x="512.63" y="517.54" width="2.60" height="5.76" fill="#c6c6c6"/>
<rect x="515.23" y="518.14" width="1.28" height="5.16" fill="#868686"/>
<rect x="516.52" y="517.54" width="2.60" height="5.76" fill="#c6c6c6"/>
<rect x="519.12" y="518.14" width="1.28" height="5.16" fill="#868686"/>
<rect x="520.40" y="515.78" width="2.60" height="7.52" fill="#c6c6c6"/>
<rect x="523.00" y="516.38" width="1.28" height="6.92" fill="#868686"/>
<rect x="524.29" y="515.78" width="2.60" height="7.52" fill="#c6c6c6"/>
<rect x="526.89" y="516.38" width="1.28" height="6.92" fill="#868686"/>
<rect x="528.18" y="472.49" width="2.60" height="50.81" fill="#c6c6c6"/>
<rect x="530.77" y="473.09" width="1.28" height="50.21" fill="#868686"/>
<rect x="532.06" y="485.07" width="2.60" height="38.23" fill="#c6c6c6"/>
<rect x="534.66" y="485.67" width="1.28" height="37.63" fill="#868686"/>
<rect x="535.95" y="494.14" width="2.60" height="29.16" fill="#c6c6c6"/>
<rect x="538.54" y="494.74" width="1.28" height="28.56" fill="#868686"/>
<rect x="539.83" y="473.83" width="2.60" height="49.47" fill="#c6c6c6"/>
<rect x="542.43" y="474.43" width="1.28" height="48.87" fill="#868686"/>
<rect x="543.72" y="416.82" width="2.60" height="106.48" fill="#c6c6c6"/>
<rect x="546.31" y="417.42" width="1.28" height="105.88" fill="#868686"/>
<rect x="547.60" y="421.98" width="2.60" height="101.32" fill="#c6c6c6"/>
<rect x="550.20" y="422.58" width="1.28" height="100.72" fill="#868686"/>
<rect x="551.49" y="472.70" width="2.60" height="50.60" fill="#c6c6c6"/>
<rect x="554.08" y="473.30" width="1.28" height="50.00" fill="#868686"/>
<rect x="555.37" y="419.92" width="2.60" height="103.38" fill="#c6c6c6"/>
<rect x="557.97" y="420.52" width="1.28" height="102.78" fill="#868686"/>
<rect x="559.25" y="419.92" width="2.60" height="103.38" fill="#c6c6c6"/>
<rect x="561.85" y="420.52" width="1.28" height="102.78" fill="#868686"/>
<rect x="563.14" y="486.51" width="2.60" height="36.79" fill="#c6c6c6"/>
<rect x="565.74" y="487.11" width="1.28" height="36.19" fill="#868686"/>
</svg>
<span class="t" style="font:bold 11.5px/14.95px 'Liberation Sans', sans-serif;color:#1a1a1a;top:114.53px;left:341.70px;transform-origin:0 50%;transform:scaleX(0.8844);">% TIMES REPORT (RAINBOW)</span>
<span class="t" style="font:normal 11.5px/14.95px 'Liberation Sans', sans-serif;color:#3a3a3a;top:143.53px;left:225.00px;transform-origin:0 50%;transform:scaleX(0.8878);">John Doe</span>
<span class="t" style="font:normal 5.3px/8.00px 'Liberation Sans', sans-serif;color:#777;top:138.70px;left:385.30px;transform-origin:0 50%;transform:scaleX(0.9000);">ID</span>
<span class="t" style="font:bold 8.3px/10.79px 'Liberation Sans', sans-serif;color:#222;top:147.10px;left:385.30px;transform-origin:0 50%;transform:scaleX(0.8261);">54321</span>
<span class="t" style="font:normal 5.3px/8.00px 'Liberation Sans', sans-serif;color:#777;top:138.70px;left:486.00px;transform-origin:0 50%;transform:scaleX(0.8696);">DOCTOR</span>
<span class="t" style="font:bold 8.3px/10.79px 'Liberation Sans', sans-serif;color:#222;top:147.10px;left:486.00px;transform-origin:0 50%;transform:scaleX(0.8971);">Albert A.</span>
<span class="t" style="font:normal 5.3px/8.00px 'Liberation Sans', sans-serif;color:#777;top:168.00px;left:225.00px;transform-origin:0 50%;transform:scaleX(0.8235);">START</span>
<span class="t" style="font:bold 8.3px/10.79px 'Liberation Sans', sans-serif;color:#222;top:176.91px;left:225.00px;transform-origin:0 50%;transform:scaleX(0.8500);">09/15/17 14:44:48</span>
<span class="t" style="font:normal 5.3px/8.00px 'Liberation Sans', sans-serif;color:#777;top:168.00px;left:345.80px;transform-origin:0 50%;transform:scaleX(0.8636);">END</span>
<span class="t" style="font:bold 8.3px/10.79px 'Liberation Sans', sans-serif;color:#222;top:176.91px;left:345.80px;transform-origin:0 50%;transform:scaleX(0.8500);">09/15/17 15:07:36</span>
<span class="t" style="font:normal 5.3px/8.00px 'Liberation Sans', sans-serif;color:#777;top:168.00px;left:466.00px;transform-origin:0 50%;transform:scaleX(0.9271);">DURATION (HH:MM:SS)</span>
<span class="t" style="font:bold 8.3px/10.79px 'Liberation Sans', sans-serif;color:#222;top:176.91px;left:466.00px;transform-origin:0 50%;transform:scaleX(0.8576);">00:22:48</span>
<span class="t" style="font:bold 6.0px/8.00px 'Liberation Sans', sans-serif;color:#444;top:335.55px;right:362.30px;transform-origin:100% 50%;transform:scaleX(0.9900);">0.0%</span>
<span class="t" style="font:bold 6.0px/8.00px 'Liberation Sans', sans-serif;color:#444;top:315.03px;right:362.30px;transform-origin:100% 50%;transform:scaleX(0.9900);">10.0%</span>
<span class="t" style="font:bold 6.0px/8.00px 'Liberation Sans', sans-serif;color:#444;top:294.52px;right:362.30px;transform-origin:100% 50%;transform:scaleX(0.9900);">20.0%</span>
<span class="t" style="font:bold 6.0px/8.00px 'Liberation Sans', sans-serif;color:#444;top:274.00px;right:362.30px;transform-origin:100% 50%;transform:scaleX(0.9900);">30.0%</span>
<span class="t" style="font:bold 6.0px/8.00px 'Liberation Sans', sans-serif;color:#444;top:253.48px;right:362.30px;transform-origin:100% 50%;transform:scaleX(0.9900);">40.0%</span>
<span class="t" style="font:bold 6.0px/8.00px 'Liberation Sans', sans-serif;color:#444;top:232.97px;right:362.30px;transform-origin:100% 50%;transform:scaleX(0.9900);">50.0%</span>
<span class="t" style="font:bold 6.0px/8.00px 'Liberation Sans', sans-serif;color:#444;top:212.45px;right:362.30px;transform-origin:100% 50%;transform:scaleX(0.9900);">60.0%</span>
<span class="t" style="font:bold 6.0px/8.00px 'Liberation Sans', sans-serif;color:#3a3a3a;top:352.70px;left:252.10px;transform-origin:50% 50%;transform:translateX(-50%) scaleX(0.9500);">91</span>
<span class="t" style="font:bold 6.0px/8.00px 'Liberation Sans', sans-serif;color:#3a3a3a;top:352.70px;left:279.75px;transform-origin:50% 50%;transform:translateX(-50%) scaleX(0.9500);">93</span>
<span class="t" style="font:bold 6.0px/8.00px 'Liberation Sans', sans-serif;color:#3a3a3a;top:352.70px;left:307.40px;transform-origin:50% 50%;transform:translateX(-50%) scaleX(0.9500);">95</span>
<span class="t" style="font:bold 6.0px/8.00px 'Liberation Sans', sans-serif;color:#3a3a3a;top:352.70px;left:335.05px;transform-origin:50% 50%;transform:translateX(-50%) scaleX(0.9500);">97</span>
<span class="t" style="font:bold 6.0px/8.00px 'Liberation Sans', sans-serif;color:#3a3a3a;top:352.70px;left:362.70px;transform-origin:50% 50%;transform:translateX(-50%) scaleX(0.9500);">99</span>
<span class="t" style="font:normal 8px/10.40px 'Liberation Sans', sans-serif;color:#2a2a2a;top:364.10px;left:315.00px;transform-origin:50% 50%;transform:translateX(-50%) scaleX(0.9000);">SpO2 %</span>
<span class="t" style="font:normal 8.8px/11.44px 'Liberation Sans', sans-serif;color:#1c1c1c;top:271.28px;left:212.10px;transform:translateX(-50%) rotate(90deg) scaleX(0.8476);transform-origin:50% 50%;">Percent of Total Time</span>
<span class="t" style="font:bold 6.0px/8.00px 'Liberation Sans', sans-serif;color:#444;top:335.55px;right:164.10px;transform-origin:100% 50%;transform:scaleX(0.9900);">0.0%</span>
<span class="t" style="font:bold 6.0px/8.00px 'Liberation Sans', sans-serif;color:#444;top:317.96px;right:164.10px;transform-origin:100% 50%;transform:scaleX(0.9900);">2.0%</span>
<span class="t" style="font:bold 6.0px/8.00px 'Liberation Sans', sans-serif;color:#444;top:300.38px;right:164.10px;transform-origin:100% 50%;transform:scaleX(0.9900);">4.0%</span>
<span class="t" style="font:bold 6.0px/8.00px 'Liberation Sans', sans-serif;color:#444;top:282.79px;right:164.10px;transform-origin:100% 50%;transform:scaleX(0.9900);">6.0%</span>
<span class="t" style="font:bold 6.0px/8.00px 'Liberation Sans', sans-serif;color:#444;top:265.21px;right:164.10px;transform-origin:100% 50%;transform:scaleX(0.9900);">8.0%</span>
<span class="t" style="font:bold 6.0px/8.00px 'Liberation Sans', sans-serif;color:#444;top:247.62px;right:164.10px;transform-origin:100% 50%;transform:scaleX(0.9900);">10.0%</span>
<span class="t" style="font:bold 6.0px/8.00px 'Liberation Sans', sans-serif;color:#444;top:230.04px;right:164.10px;transform-origin:100% 50%;transform:scaleX(0.9900);">12.0%</span>
<span class="t" style="font:bold 6.0px/8.00px 'Liberation Sans', sans-serif;color:#444;top:212.45px;right:164.10px;transform-origin:100% 50%;transform:scaleX(0.9900);">14.0%</span>
<span class="t" style="font:bold 6.0px/8.00px 'Liberation Sans', sans-serif;color:#3a3a3a;top:353.00px;left:450.40px;transform-origin:50% 50%;transform:translateX(-50%) scaleX(0.9500);">50</span>
<span class="t" style="font:bold 6.0px/8.00px 'Liberation Sans', sans-serif;color:#3a3a3a;top:353.00px;left:466.40px;transform-origin:50% 50%;transform:translateX(-50%) scaleX(0.9500);">54</span>
<span class="t" style="font:bold 6.0px/8.00px 'Liberation Sans', sans-serif;color:#3a3a3a;top:353.00px;left:482.40px;transform-origin:50% 50%;transform:translateX(-50%) scaleX(0.9500);">58</span>
<span class="t" style="font:bold 6.0px/8.00px 'Liberation Sans', sans-serif;color:#3a3a3a;top:353.00px;left:498.40px;transform-origin:50% 50%;transform:translateX(-50%) scaleX(0.9500);">62</span>
<span class="t" style="font:bold 6.0px/8.00px 'Liberation Sans', sans-serif;color:#3a3a3a;top:353.00px;left:514.40px;transform-origin:50% 50%;transform:translateX(-50%) scaleX(0.9500);">66</span>
<span class="t" style="font:bold 6.0px/8.00px 'Liberation Sans', sans-serif;color:#3a3a3a;top:353.00px;left:530.40px;transform-origin:50% 50%;transform:translateX(-50%) scaleX(0.9500);">70</span>
<span class="t" style="font:bold 6.0px/8.00px 'Liberation Sans', sans-serif;color:#3a3a3a;top:353.00px;left:546.40px;transform-origin:50% 50%;transform:translateX(-50%) scaleX(0.9500);">74</span>
<span class="t" style="font:bold 6.0px/8.00px 'Liberation Sans', sans-serif;color:#3a3a3a;top:353.00px;left:562.40px;transform-origin:50% 50%;transform:translateX(-50%) scaleX(0.9500);">78</span>
<span class="t" style="font:bold 6.0px/8.00px 'Liberation Sans', sans-serif;color:#3a3a3a;top:353.00px;left:578.40px;transform-origin:50% 50%;transform:translateX(-50%) scaleX(0.9500);">82</span>
<span class="t" style="font:normal 8px/10.40px 'Liberation Sans', sans-serif;color:#2a2a2a;top:363.80px;left:517.30px;transform-origin:50% 50%;transform:translateX(-50%) scaleX(0.9000);">PR bpm</span>
<span class="t" style="font:normal 8.8px/11.44px 'Liberation Sans', sans-serif;color:#1c1c1c;top:271.28px;left:410.30px;transform:translateX(-50%) rotate(90deg) scaleX(0.8476);transform-origin:50% 50%;">Percent of Total Time</span>
<span class="t" style="font:bold 6.0px/8.00px 'Liberation Sans', sans-serif;color:#444;top:518.95px;right:362.30px;transform-origin:100% 50%;transform:scaleX(0.9900);">0.0%</span>
<span class="t" style="font:bold 6.0px/8.00px 'Liberation Sans', sans-serif;color:#444;top:499.88px;right:362.30px;transform-origin:100% 50%;transform:scaleX(0.9900);">4.0%</span>
<span class="t" style="font:bold 6.0px/8.00px 'Liberation Sans', sans-serif;color:#444;top:480.82px;right:362.30px;transform-origin:100% 50%;transform:scaleX(0.9900);">8.0%</span>
<span class="t" style="font:bold 6.0px/8.00px 'Liberation Sans', sans-serif;color:#444;top:461.75px;right:362.30px;transform-origin:100% 50%;transform:scaleX(0.9900);">12.0%</span>
<span class="t" style="font:bold 6.0px/8.00px 'Liberation Sans', sans-serif;color:#444;top:442.68px;right:362.30px;transform-origin:100% 50%;transform:scaleX(0.9900);">16.0%</span>
<span class="t" style="font:bold 6.0px/8.00px 'Liberation Sans', sans-serif;color:#444;top:423.62px;right:362.30px;transform-origin:100% 50%;transform:scaleX(0.9900);">20.0%</span>
<span class="t" style="font:bold 6.0px/8.00px 'Liberation Sans', sans-serif;color:#444;top:404.55px;right:362.30px;transform-origin:100% 50%;transform:scaleX(0.9900);">24.0%</span>
<span class="t" style="font:bold 6.0px/8.00px 'Liberation Sans', sans-serif;color:#3a3a3a;top:535.50px;left:258.40px;transform-origin:50% 50%;transform:translateX(-50%) scaleX(0.9500);">4</span>
<span class="t" style="font:bold 6.0px/8.00px 'Liberation Sans', sans-serif;color:#3a3a3a;top:535.50px;left:280.26px;transform-origin:50% 50%;transform:translateX(-50%) scaleX(0.9500);">8</span>
<span class="t" style="font:bold 6.0px/8.00px 'Liberation Sans', sans-serif;color:#3a3a3a;top:535.50px;left:302.12px;transform-origin:50% 50%;transform:translateX(-50%) scaleX(0.9500);">12</span>
<span class="t" style="font:bold 6.0px/8.00px 'Liberation Sans', sans-serif;color:#3a3a3a;top:535.50px;left:323.98px;transform-origin:50% 50%;transform:translateX(-50%) scaleX(0.9500);">16</span>
<span class="t" style="font:bold 6.0px/8.00px 'Liberation Sans', sans-serif;color:#3a3a3a;top:535.50px;left:345.84px;transform-origin:50% 50%;transform:translateX(-50%) scaleX(0.9500);">20</span>
<span class="t" style="font:bold 6.0px/8.00px 'Liberation Sans', sans-serif;color:#3a3a3a;top:535.50px;left:367.70px;transform-origin:50% 50%;transform:translateX(-50%) scaleX(0.9500);">24</span>
<span class="t" style="font:normal 8px/10.40px 'Liberation Sans', sans-serif;color:#2a2a2a;top:547.00px;left:319.60px;transform-origin:50% 50%;transform:translateX(-50%) scaleX(0.9000);">RR rpm</span>
<span class="t" style="font:normal 8.8px/11.44px 'Liberation Sans', sans-serif;color:#1c1c1c;top:455.48px;left:212.10px;transform:translateX(-50%) rotate(90deg) scaleX(0.8476);transform-origin:50% 50%;">Percent of Total Time</span>
<span class="t" style="font:bold 6.0px/8.00px 'Liberation Sans', sans-serif;color:#444;top:518.95px;right:164.10px;transform-origin:100% 50%;transform:scaleX(0.9900);">0.0%</span>
<span class="t" style="font:bold 6.0px/8.00px 'Liberation Sans', sans-serif;color:#444;top:498.33px;right:164.10px;transform-origin:100% 50%;transform:scaleX(0.9900);">2.0%</span>
<span class="t" style="font:bold 6.0px/8.00px 'Liberation Sans', sans-serif;color:#444;top:477.72px;right:164.10px;transform-origin:100% 50%;transform:scaleX(0.9900);">4.0%</span>
<span class="t" style="font:bold 6.0px/8.00px 'Liberation Sans', sans-serif;color:#444;top:457.10px;right:164.10px;transform-origin:100% 50%;transform:scaleX(0.9900);">6.0%</span>
<span class="t" style="font:bold 6.0px/8.00px 'Liberation Sans', sans-serif;color:#444;top:436.48px;right:164.10px;transform-origin:100% 50%;transform:scaleX(0.9900);">8.0%</span>
<span class="t" style="font:bold 6.0px/8.00px 'Liberation Sans', sans-serif;color:#444;top:415.87px;right:164.10px;transform-origin:100% 50%;transform:scaleX(0.9900);">10.0%</span>
<span class="t" style="font:bold 6.0px/8.00px 'Liberation Sans', sans-serif;color:#444;top:395.25px;right:164.10px;transform-origin:100% 50%;transform:scaleX(0.9900);">12.0%</span>
<span class="t" style="font:bold 6.0px/8.00px 'Liberation Sans', sans-serif;color:#3a3a3a;top:535.50px;left:450.40px;transform-origin:50% 50%;transform:translateX(-50%) scaleX(0.9500);">10</span>
<span class="t" style="font:bold 6.0px/8.00px 'Liberation Sans', sans-serif;color:#3a3a3a;top:535.50px;left:465.94px;transform-origin:50% 50%;transform:translateX(-50%) scaleX(0.9500);">14</span>
<span class="t" style="font:bold 6.0px/8.00px 'Liberation Sans', sans-serif;color:#3a3a3a;top:535.50px;left:481.48px;transform-origin:50% 50%;transform:translateX(-50%) scaleX(0.9500);">18</span>
<span class="t" style="font:bold 6.0px/8.00px 'Liberation Sans', sans-serif;color:#3a3a3a;top:535.50px;left:497.02px;transform-origin:50% 50%;transform:translateX(-50%) scaleX(0.9500);">22</span>
<span class="t" style="font:bold 6.0px/8.00px 'Liberation Sans', sans-serif;color:#3a3a3a;top:535.50px;left:512.56px;transform-origin:50% 50%;transform:translateX(-50%) scaleX(0.9500);">26</span>
<span class="t" style="font:bold 6.0px/8.00px 'Liberation Sans', sans-serif;color:#3a3a3a;top:535.50px;left:528.10px;transform-origin:50% 50%;transform:translateX(-50%) scaleX(0.9500);">30</span>
<span class="t" style="font:bold 6.0px/8.00px 'Liberation Sans', sans-serif;color:#3a3a3a;top:535.50px;left:543.64px;transform-origin:50% 50%;transform:translateX(-50%) scaleX(0.9500);">34</span>
<span class="t" style="font:bold 6.0px/8.00px 'Liberation Sans', sans-serif;color:#3a3a3a;top:535.50px;left:559.18px;transform-origin:50% 50%;transform:translateX(-50%) scaleX(0.9500);">38</span>
<span class="t" style="font:bold 6.0px/8.00px 'Liberation Sans', sans-serif;color:#3a3a3a;top:535.50px;left:574.72px;transform-origin:50% 50%;transform:translateX(-50%) scaleX(0.9500);">42</span>
<span class="t" style="font:normal 8px/10.40px 'Liberation Sans', sans-serif;color:#2a2a2a;top:547.00px;left:517.00px;transform-origin:50% 50%;transform:translateX(-50%) scaleX(0.9000);">PVi</span>
<span class="t" style="font:normal 8.8px/11.44px 'Liberation Sans', sans-serif;color:#1c1c1c;top:455.48px;left:410.30px;transform:translateX(-50%) rotate(90deg) scaleX(0.8476);transform-origin:50% 50%;">Percent of Total Time</span>
</div>
</body></html>
